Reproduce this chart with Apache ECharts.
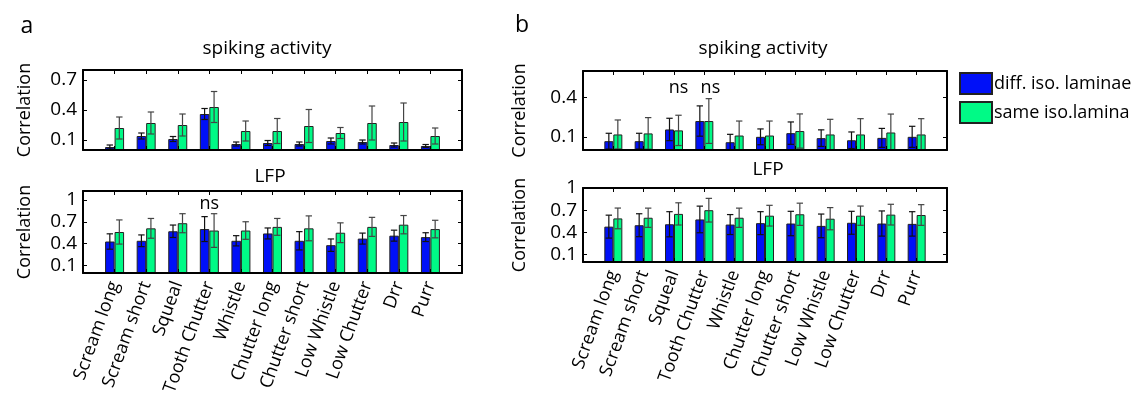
<!DOCTYPE html>
<html>
<head>
<meta charset="utf-8">
<script src="https://cdn.jsdelivr.net/npm/echarts@6/dist/echarts.min.js"></script>
<style>
  html, body { margin: 0; padding: 0; background: #fff; }
  #chart { width: 1139px; height: 401px; }
</style>
</head>
<body>
<div id="chart"></div>
<script>
// Call types, in plotting order
const categories = ['Scream long', 'Scream short', 'Squeal', 'Tooth Chutter', 'Whistle',
  'Chutter long', 'Chutter short', 'Low Whistle', 'Low Chutter', 'Drr', 'Purr'];

const seriesNames = ['diff. iso. laminae', 'same iso.lamina'];

// Panel a — spiking activity (mean, s.e.)
const aSpikeDiff     = [0.03, 0.14, 0.11, 0.36, 0.06, 0.07, 0.06, 0.09, 0.08, 0.05, 0.04];
const aSpikeDiffErr  = [0.02, 0.03, 0.025, 0.055, 0.02, 0.025, 0.02, 0.03, 0.02, 0.02, 0.015];
const aSpikeSame     = [0.22, 0.27, 0.25, 0.43, 0.19, 0.19, 0.24, 0.17, 0.27, 0.28, 0.14];
const aSpikeSameErr  = [0.11, 0.11, 0.11, 0.155, 0.10, 0.125, 0.165, 0.055, 0.17, 0.19, 0.08];

// Panel a — LFP
const aLfpDiff       = [0.43, 0.44, 0.57, 0.60, 0.44, 0.54, 0.44, 0.38, 0.47, 0.51, 0.49];
const aLfpDiffErr    = [0.105, 0.08, 0.085, 0.17, 0.07, 0.075, 0.125, 0.085, 0.075, 0.075, 0.06];
const aLfpSame       = [0.56, 0.61, 0.68, 0.58, 0.58, 0.63, 0.61, 0.55, 0.63, 0.66, 0.60];
const aLfpSameErr    = [0.165, 0.135, 0.13, 0.23, 0.12, 0.115, 0.17, 0.135, 0.13, 0.125, 0.12];

// Panel b — spiking activity
const bSpikeDiff     = [0.067, 0.067, 0.156, 0.22, 0.059, 0.10, 0.128, 0.09, 0.074, 0.092, 0.10];
const bSpikeDiffErr  = [0.06, 0.06, 0.085, 0.115, 0.06, 0.06, 0.085, 0.063, 0.063, 0.072, 0.08];
const bSpikeSame     = [0.118, 0.126, 0.149, 0.22, 0.11, 0.11, 0.144, 0.118, 0.118, 0.133, 0.118];
const bSpikeSameErr  = [0.11, 0.12, 0.115, 0.17, 0.11, 0.11, 0.13, 0.115, 0.12, 0.14, 0.12];

// Panel b — LFP
const bLfpDiff       = [0.478, 0.497, 0.51, 0.575, 0.506, 0.525, 0.52, 0.488, 0.53, 0.52, 0.515];
const bLfpDiffErr    = [0.155, 0.155, 0.17, 0.18, 0.135, 0.155, 0.165, 0.16, 0.155, 0.17, 0.165];
const bLfpSame       = [0.589, 0.598, 0.65, 0.70, 0.598, 0.626, 0.645, 0.585, 0.626, 0.64, 0.635];
const bLfpSameErr    = [0.14, 0.13, 0.15, 0.16, 0.13, 0.14, 0.15, 0.15, 0.13, 0.14, 0.14];

// Y tick labels per axes
const yTicksASpike = [0.1, 0.4, 0.7];
const yTicksLfp    = [0.1, 0.4, 0.7, 1];
const yTicksBSpike = [0.1, 0.4];

// Non-significant markers: [category position, y]
const nsALfp   = [[4, 0.95]];
const nsBSpike = [[3.15, 0.47], [4.2, 0.47]];

const FONT = '"Open Sans", "Noto Sans", sans-serif';
const BLUE = '#0010f8';
const GREEN = '#00fa86';
const xPos = categories.map((_, i) => i + 1);

const panels = [
  { grid: { left: 83, top: 70, width: 379, height: 80 },  ymax: 0.8,  yTicks: yTicksASpike, diff: aSpikeDiff, diffErr: aSpikeDiffErr, same: aSpikeSame, sameErr: aSpikeSameErr, labels: false, barW: 9.5, nameGap: 49, ns: [] },
  { grid: { left: 83, top: 191, width: 379, height: 82 }, ymax: 1.12, yTicks: yTicksLfp,    diff: aLfpDiff,   diffErr: aLfpDiffErr,   same: aLfpSame,   sameErr: aLfpSameErr,   labels: true,  barW: 9.5, nameGap: 49, ns: nsALfp },
  { grid: { left: 583, top: 71, width: 364, height: 79 }, ymax: 0.6,  yTicks: yTicksBSpike, diff: bSpikeDiff, diffErr: bSpikeDiffErr, same: bSpikeSame, sameErr: bSpikeSameErr, labels: false, barW: 9,   nameGap: 54, ns: nsBSpike },
  { grid: { left: 583, top: 188, width: 364, height: 74 }, ymax: 1.0, yTicks: yTicksLfp,    diff: bLfpDiff,   diffErr: bLfpDiffErr,   same: bLfpSame,   sameErr: bLfpSameErr,   labels: true,  barW: 9,   nameGap: 54, ns: [] }
];

const grids = [], xAxes = [], yAxes = [], series = [];
const axisLine = { show: true, onZero: false, lineStyle: { color: '#000', width: 2 } };

function errorSeries(xi, yi, vals, errs, offset, color) {
  return {
    type: 'custom', xAxisIndex: xi, yAxisIndex: yi, z: 4, silent: true,
    data: vals.map((v, i) => [xPos[i], v, errs[i]]),
    renderItem: function (params, api) {
      const x = api.value(0), v = api.value(1), e = api.value(2);
      const lo = Math.max(v - e, 0);
      const top = api.coord([x, v + e]);
      const bot = api.coord([x, lo]);
      const cx = top[0] + offset;
      const cap = 3.2;
      const style = { stroke: color, lineWidth: 1.2 };
      const children = [
        { type: 'line', shape: { x1: cx, y1: top[1], x2: cx, y2: bot[1] }, style },
        { type: 'line', shape: { x1: cx - cap, y1: top[1], x2: cx + cap, y2: top[1] }, style }
      ];
      if (v - e > 0) children.push({ type: 'line', shape: { x1: cx - cap, y1: bot[1], x2: cx + cap, y2: bot[1] }, style });
      return { type: 'group', children };
    }
  };
}

panels.forEach((p, k) => {
  grids.push(Object.assign({ containLabel: false }, p.grid));
  const xb = xAxes.length, yl = yAxes.length;
  // bottom x-axis with call-type labels
  xAxes.push({
    type: 'value', gridIndex: k, min: 0, max: 12, position: 'bottom', z: 6,
    axisLine, splitLine: { show: false },
    axisTick: { show: true, inside: true, length: 4, customValues: xPos, lineStyle: { color: '#000', width: 1 } },
    axisLabel: {
      show: p.labels, customValues: xPos, rotate: 70, margin: 9,
      formatter: v => categories[Math.round(v) - 1] || '',
      fontFamily: FONT, fontSize: 18, color: '#000'
    }
  });
  // top x-axis (box edge + mirrored ticks)
  xAxes.push({
    type: 'value', gridIndex: k, min: 0, max: 12, position: 'top', z: 6,
    axisLine, splitLine: { show: false }, axisLabel: { show: false },
    axisTick: { show: true, inside: true, length: 4, customValues: xPos, lineStyle: { color: '#000', width: 1 } }
  });
  yAxes.push({
    type: 'value', gridIndex: k, min: 0, max: p.ymax, position: 'left', z: 6,
    name: 'Correlation', nameLocation: 'middle', nameGap: p.nameGap, nameRotate: 90,
    nameTextStyle: { fontFamily: FONT, fontSize: 18, color: '#000' },
    axisLine, splitLine: { show: false },
    axisTick: { show: true, inside: true, length: 4, customValues: p.yTicks, lineStyle: { color: '#000', width: 1 } },
    axisLabel: { show: true, customValues: p.yTicks, margin: 6, fontFamily: FONT, fontSize: 19, color: '#000',
      formatter: v => String(+v.toFixed(1)) }
  });
  yAxes.push({
    type: 'value', gridIndex: k, min: 0, max: p.ymax, position: 'right', z: 6,
    axisLine, splitLine: { show: false }, axisLabel: { show: false },
    axisTick: { show: true, inside: true, length: 4, customValues: p.yTicks, lineStyle: { color: '#000', width: 1 } }
  });

  const common = { type: 'bar', xAxisIndex: xb, yAxisIndex: yl, barWidth: p.barW, barGap: '0%', z: 2 };
  series.push(Object.assign({}, common, {
    name: seriesNames[0], data: p.diff.map((v, i) => [xPos[i], v]),
    itemStyle: { color: BLUE, borderColor: '#222', borderWidth: 1 }
  }));
  series.push(Object.assign({}, common, {
    name: seriesNames[1], data: p.same.map((v, i) => [xPos[i], v]),
    itemStyle: { color: GREEN, borderColor: '#222', borderWidth: 1 }
  }));
  series.push(errorSeries(xb, yl, p.diff, p.diffErr, -p.barW / 2, '#111'));
  series.push(errorSeries(xb, yl, p.same, p.sameErr, p.barW / 2, '#444'));
  if (p.ns.length) {
    series.push({
      type: 'scatter', xAxisIndex: xb, yAxisIndex: yl, symbolSize: 0, silent: true, z: 5,
      data: p.ns, itemStyle: { color: '#000', opacity: 0 },
      label: { show: true, position: 'inside', formatter: 'ns', fontFamily: FONT, fontSize: 18,
        color: '#000', textBorderWidth: 0, opacity: 1 }
    });
  }
});

const textStyle = (t, x, y, size) => ({
  type: 'text', x, y,
  style: { text: t, fontFamily: FONT, fontSize: size, fill: '#000', textAlign: 'center', textVerticalAlign: 'middle' }
});

const option = {
  animation: false,
  backgroundColor: '#fff',
  grid: grids, xAxis: xAxes, yAxis: yAxes, series,
  legend: {
    data: seriesNames.map(n => ({ name: n, icon: 'rect' })), orient: 'vertical', left: 954, top: 67,
    itemWidth: 32, itemHeight: 21, itemGap: 6,
    textStyle: { fontFamily: FONT, fontSize: 18, color: '#000', padding: [0, 0, 0, -3] },
    selectedMode: false
  },
  graphic: [
    textStyle('a', 27, 26, 23),
    textStyle('b', 522, 25, 23),
    textStyle('spiking activity', 267, 49, 19),
    textStyle('LFP', 270, 177, 19),
    textStyle('spiking activity', 763, 49, 19),
    textStyle('LFP', 768, 170, 19)
  ]
};

const chart = echarts.init(document.getElementById('chart'), null, { renderer: 'canvas' });
chart.setOption(option);
</script>
</body>
</html>
